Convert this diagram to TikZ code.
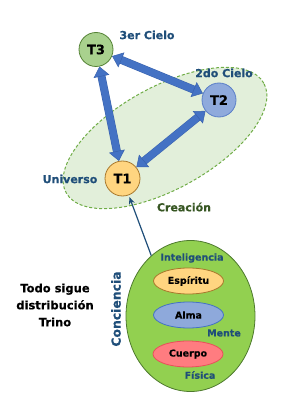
\documentclass[tikz,border=0pt]{standalone}
\usepackage{fontspec}
\setmainfont{DejaVu Sans}[BoldFeatures={FakeBold=0.4}]
\usetikzlibrary{arrows.meta,shapes.geometric}
\definecolor{textblue}{HTML}{1F4E79}
\definecolor{creagreen}{HTML}{375623}
\definecolor{tthreefill}{HTML}{A9D18E}
\definecolor{tthreeborder}{HTML}{548235}
\definecolor{ttwofill}{HTML}{8FAADC}
\definecolor{ttwoborder}{HTML}{5B7FC8}
\definecolor{tonefill}{HTML}{FFD580}
\definecolor{toneborder}{HTML}{A8782C}
\definecolor{almafill}{HTML}{8EA9DB}
\definecolor{almaborder}{HTML}{4472C4}
\definecolor{cuerpofill}{HTML}{FF7C80}
\definecolor{cuerpoborder}{HTML}{E8505A}
\definecolor{biggreen}{HTML}{92D050}
\definecolor{bigborder}{HTML}{4E7A2E}
\definecolor{creafill}{HTML}{E2EFDA}
\definecolor{creaborder}{HTML}{70AD47}
\definecolor{arrowfill}{HTML}{4472C4}
\definecolor{arrowborder}{HTML}{3A63AE}
\tikzset{
  bigtip/.tip={Triangle[width=16pt,length=10pt,color=arrowborder,fill=arrowfill,line width=0.5pt]},
  fatshaft/.style={draw=arrowborder, line width=8pt, shorten <=9pt, shorten >=9pt},
  fatarr/.style={draw=arrowfill, line width=7pt, bigtip-bigtip},
  tnode/.style={circle, inner sep=0pt, minimum size=34pt, line width=0.8pt, font=\bfseries\fontsize{13}{13}\selectfont},
  lbl/.style={text=textblue, font=\bfseries\fontsize{11}{11}\selectfont, inner sep=0pt},
  small/.style={text=textblue, font=\bfseries\fontsize{9.5}{9.5}\selectfont, inner sep=0pt},
  inner/.style={ellipse, inner sep=0pt, minimum width=70pt, minimum height=26pt, line width=0.8pt, font=\bfseries\fontsize{9.5}{9.5}\selectfont},
}
\begin{document}
\begin{tikzpicture}[x=1pt,y=-1pt]
\useasboundingbox (0,0) rectangle (284,406);
% creation ellipse
\node[ellipse, draw=creaborder, dashed, dash pattern=on 3pt off 2pt, line width=1pt, fill=creafill, inner sep=0pt, minimum width=226pt, minimum height=102pt, rotate=29] (crea) at (165,138) {};
% T nodes
\node[tnode, draw=tthreeborder, fill=tthreefill] (T3) at (96,49.5) {T3};
\node[tnode, draw=ttwoborder, fill=ttwofill] (T2) at (219,100) {T2};
\node[tnode, draw=toneborder, fill=tonefill, minimum size=35pt] (T1) at (122.5,178.5) {T1};
% fat arrows
\draw[fatshaft] (T3) -- (T2);
\draw[fatarr] (T3) -- (T2);
\draw[fatshaft] (T3) -- (T1);
\draw[fatarr] (T3) -- (T1);
\draw[fatshaft] (T1) -- (T2);
\draw[fatarr] (T1) -- (T2);
% labels
\node[lbl] (l3) at (147,35) {3er Cielo};
\node[lbl] (l2) at (224,73) {2do Cielo};
\node[lbl] (lu) at (70,179) {Universo};
\node[lbl, text=creagreen] (lc) at (184,207) {Creación};
% big ellipse
\node[ellipse, draw=bigborder, fill=biggreen, inner sep=0pt, minimum width=129pt, minimum height=151pt, line width=0.8pt] (big) at (190.5,316) {};
\node[inner, draw=toneborder, fill=tonefill] (esp) at (188.5,281) {Espíritu};
\node[inner, draw=almaborder, fill=almafill] (alma) at (188.5,315) {Alma};
\node[inner, draw=cuerpoborder, fill=cuerpofill] (cuerpo) at (188,354) {Cuerpo};
\node[small] (intel) at (192,258) {Inteligencia};
\node[small] (mente) at (224,333) {Mente};
\node[small] (fis) at (200,375) {Física};
\node[lbl, rotate=90, font=\bfseries\fontsize{12.4}{12.4}\selectfont] (conc) at (116,309) {Conciencia};
\node[align=center, inner sep=0pt, font=\bfseries\fontsize{11.5}{17}\selectfont] (todo) at (55,305) {Todo sigue\\distribución\\Trino};
% connector
\draw[textblue, line width=1.2pt, shorten >=2pt, -{Stealth[length=7pt,width=6pt]}] (big.123) -- (T1);
\end{tikzpicture}
\end{document}
